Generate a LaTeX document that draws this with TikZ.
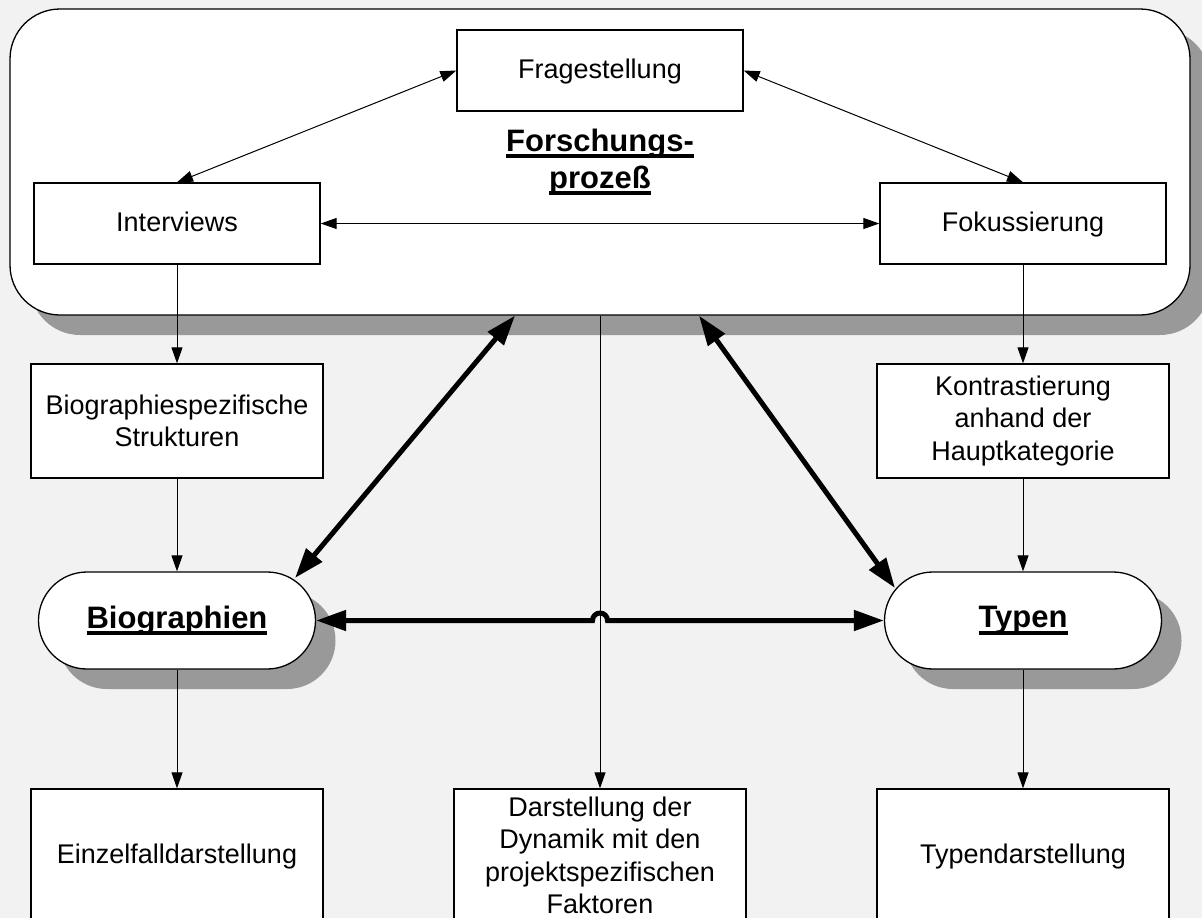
\documentclass[tikz,border=0pt]{standalone}
\usepackage{fontspec}
\setmainfont{Liberation Sans}
\usetikzlibrary{arrows.meta,shadows,calc}
\definecolor{bg}{HTML}{F2F2F2}
\definecolor{shgray}{HTML}{999999}
\newcommand\myul[1]{\setbox0=\hbox{#1}\leavevmode\rlap{\rule[-7pt]{\wd0}{4pt}}\box0}
\newcommand\regf{\fontsize{27}{32.5}\selectfont}
\newcommand\boldf{\fontsize{31}{37}\selectfont\bfseries}
\begin{document}
\begin{tikzpicture}[x=1pt,y=-1pt,
  myshadow/.style={drop shadow={shadow xshift=20pt,shadow yshift=-20pt,fill=shgray,opacity=1}},
  bigbox/.style={draw,line width=1.3pt,fill=white,rounded corners=50pt,minimum width=1180pt,minimum height=306pt,inner sep=0pt,myshadow},
  box/.style={draw,line width=1.3pt,fill=white,inner sep=0pt,align=center,font=\regf,minimum width=286pt,minimum height=81pt},
  oneline/.style={text height=20pt,text depth=5pt},
  midbox/.style={box,minimum width=292pt,minimum height=114pt},
  lowbox/.style={box,minimum width=292pt,minimum height=133pt},
  pill/.style={draw,line width=1.3pt,fill=white,rounded corners=48.5pt,minimum width=277pt,minimum height=97pt,inner sep=0pt,font=\boldf,myshadow},
  titletext/.style={inner sep=0pt,align=center,font=\boldf},
  arr/.style={line width=1pt,-{Triangle[length=16pt,width=11pt]}},
  darr/.style={line width=1pt,{Triangle[length=16pt,width=11pt]}-{Triangle[length=16pt,width=11pt]}},
  thickarr/.style={line width=5pt,{Triangle[length=30pt,width=20pt]}-{Triangle[length=30pt,width=20pt]}}
]
\useasboundingbox (0,0) rectangle (1202,918);
\clip (0,0) rectangle (1202,918);
\fill[bg] (0,0) rectangle (1202,918);

\node[bigbox] (proc) at (600,162) {};
\node[titletext] (title) at (600,162) {\myul{Forschungs-}\\\myul{prozeß}};
\node[box,oneline] (frage) at (600,70.5) {Fragestellung};
\node[box,oneline] (interv) at (177,223.5) {Interviews};
\node[box,oneline] (fokus) at (1023,223.5) {Fokussierung};

\node[midbox] (biostr) at (177,421) {Biographiespezifische\\Strukturen};
\node[midbox] (kontr) at (1023,421) {Kontrastierung\\anhand der\\Hauptkategorie};

\node[pill] (bio) at (177,620.5) {\myul{Biographien}};
\node[pill] (typ) at (1023,620.5) {\myul{Typen}};

\node[lowbox,oneline] (einzel) at (177,855.5) {Einzelfalldarstellung};
\node[lowbox] (dyn) at (600,855.5) {Darstellung der\\Dynamik mit den\\projektspezifischen\\Faktoren};
\node[lowbox,oneline] (typd) at (1023,855.5) {Typendarstellung};

% thin connectors
\draw[darr] (frage.west) -- (interv.north);
\draw[darr] (frage.east) -- (fokus.north);
\draw[darr] (interv.east) -- (fokus.west);
\draw[arr] (interv.south) -- (biostr.north);
\draw[arr] (biostr.south) -- (bio.north);
\draw[arr] (bio.south) -- (einzel.north);
\draw[arr] (fokus.south) -- (kontr.north);
\draw[arr] (kontr.south) -- (typ.north);
\draw[arr] (typ.south) -- (typd.north);
\draw[arr] (proc.south) -- (dyn.north);

% thick connectors
\coordinate (pl) at ($(proc.south)+(-85,0)$);
\coordinate (pr) at ($(proc.south)+(99,0)$);
\coordinate (bl) at (295,578);
\coordinate (tr) at (895,588);
\coordinate (j1) at (592.5,620.5);
\draw[thickarr] (pl) -- (bl);
\draw[thickarr] (pr) -- (tr);
\draw[thickarr] (bio.east) -- (j1) arc[start angle=180,end angle=360,radius=7.5] -- (typ.west);
\end{tikzpicture}
\end{document}
